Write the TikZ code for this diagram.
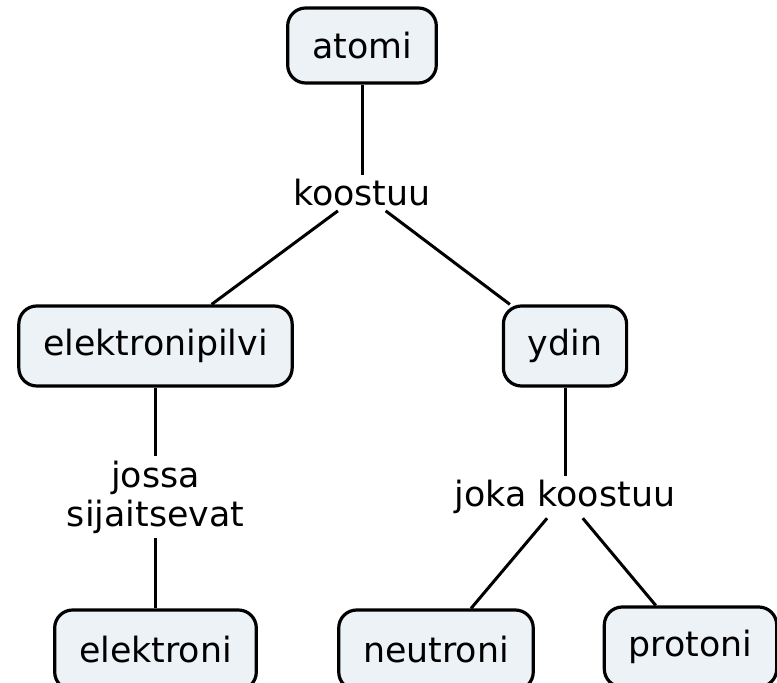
\documentclass[tikz,border=0pt]{standalone}
\usepackage{fontspec}
\setmainfont{DejaVu Sans}
\usepackage{xcolor}
\usepackage{tikz}
\usetikzlibrary{positioning}
\definecolor{conceptfill}{HTML}{ECF2F6}
\newcommand{\mapfont}{\fontsize{17.4}{19.5}\selectfont}

\begin{document}
\begin{tikzpicture}[
    x=0.5pt, y=-0.5pt,
    concept/.style={draw, line width=1.6pt, rounded corners=9pt,
                    fill=conceptfill, minimum height=40pt,
                    inner xsep=12.2pt, font=\mapfont},
    phrase/.style={inner sep=2pt, align=center, font=\mapfont},
    link/.style={line width=1.5pt}
  ]
    \useasboundingbox (0,0) rectangle (777,683);

    % concepts
    \node[concept, minimum height=37.5pt] (atomi) at (362,45.5) {atomi};
    \node[concept] (pilvi) at (155.5,346) {elektronipilvi};
    \node[concept] (ydin) at (565,346) {ydin};
    \node[concept] (elektroni) at (155.5,650) {elektroni};
    \node[concept] (neutroni) at (436,650) {neutroni};
    \node[concept] (protoni) at (690.5,647) {protoni};

    % linking phrases
    \node[phrase] (koostuu) at (362,193) {koostuu};
    \node[phrase] (jossa) at (155.5,497) {jossa\\sijaitsevat};
    \node[phrase] (joka) at (565,497) {joka koostuu};

    \draw[link] (atomi) -- (koostuu);
    \draw[link] (koostuu) -- (pilvi);
    \draw[link] (koostuu) -- (ydin);
    \draw[link] (pilvi) -- (jossa);
    \draw[link] (jossa) -- (elektroni);
    \draw[link] (ydin) -- (joka);
    \draw[link] (joka) -- (neutroni);
    \draw[link] (joka) -- (protoni);
  \end{tikzpicture}
\end{document}
